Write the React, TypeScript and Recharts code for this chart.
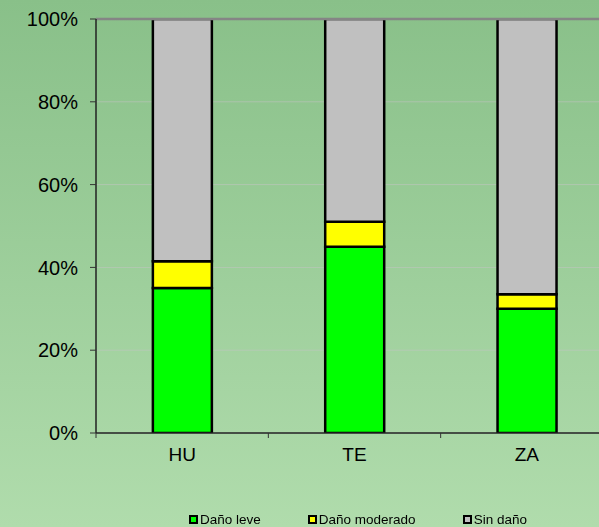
import React from 'react';
import {
  BarChart,
  Bar,
  XAxis,
  YAxis,
  CartesianGrid,
  ReferenceLine,
  Legend
} from 'recharts';

// Damage share per zone (percent of trees)
const zones = ['HU', 'TE', 'ZA'];
const danoLeve = [35, 45, 30];
const danoModerado = [6.5, 6, 3.5];
const sinDano = [58.5, 49, 66.5];
const yTicks = [0, 20, 40, 60, 80, 100];

const data = zones.map((zone, i) => ({
  zone,
  leve: danoLeve[i],
  moderado: danoModerado[i],
  sin: sinDano[i]
}));

const FONT = '"Liberation Sans", Arial, sans-serif';

const ZoneTick = (props: any) => {
  const { x, payload, index } = props;
  const half = payload && payload.offset ? payload.offset : 86;
  const axisY = 433;
  return (
    <g>
      <line x1={x - half} y1={axisY} x2={x - half} y2={axisY + 5} stroke="#333" />
      {index === zones.length - 1 && (
        <line x1={x + half} y1={axisY} x2={x + half} y2={axisY + 5} stroke="#333" />
      )}
      <text x={x} y={axisY + 15} dy="0.71em" textAnchor="middle" fontSize={19} fill="#000" fontFamily={FONT}>
        {payload.value}
      </text>
    </g>
  );
};

const LegendContent = (props: any) => {
  const { payload } = props;
  return (
    <div style={{ display: 'flex', fontFamily: FONT, fontSize: 13.5, color: '#000', lineHeight: '15px' }}>
      {(payload || []).map((item: any) => (
        <div key={item.value} style={{ display: 'flex', alignItems: 'center', marginRight: 47 }}>
          <span
            style={{
              display: 'inline-block',
              width: 5,
              height: 5,
              background: item.color,
              border: '2px solid #000',
              marginRight: 2
            }}
          />
          <span>{item.value}</span>
        </div>
      ))}
    </div>
  );
};

export default function App() {
  return (
    <div
      style={{
        position: 'fixed',
        left: 0,
        top: 0,
        width: 599,
        height: 527,
        background: 'linear-gradient(to bottom, #89c089 0%, #b0dcac 100%)'
      }}
    >
      <BarChart
        width={599}
        height={527}
        data={data}
        margin={{ top: 19, right: -14, left: 0, bottom: 54 }}
        barCategoryGap="33%"
      >
        <CartesianGrid vertical={false} stroke="#c4c4c4" strokeOpacity={0.55} />
        <XAxis
          dataKey="zone"
          height={40}
          tickLine={false}
          axisLine={{ stroke: '#222', strokeWidth: 1.5 }}
          tick={<ZoneTick />}
          interval={0}
        />
        <YAxis
          width={96}
          domain={[0, 100]}
          ticks={yTicks}
          tickFormatter={(v: number) => `${v}%`}
          tickSize={6}
          tickMargin={12}
          tickLine={{ stroke: '#333' }}
          axisLine={{ stroke: '#222', strokeWidth: 1.5 }}
          tick={{ fontSize: 20, fill: '#000', fontFamily: FONT }}
          allowDataOverflow
        />
        <ReferenceLine y={100} stroke="#858585" strokeWidth={2.5} />
        <Legend
          layout="horizontal"
          verticalAlign="middle"
          align="center"
          content={<LegendContent />}
          wrapperStyle={{ top: 512, left: 189, width: 420 }}
        />
        <Bar dataKey="leve" name="Daño leve" stackId="a" fill="#00ff00" stroke="#000" strokeWidth={2.5} isAnimationActive={false} />
        <Bar dataKey="moderado" name="Daño moderado" stackId="a" fill="#ffff00" stroke="#000" strokeWidth={2.5} isAnimationActive={false} />
        <Bar dataKey="sin" name="Sin daño" stackId="a" fill="#c0c0c0" stroke="#000" strokeWidth={2.5} isAnimationActive={false} />
      </BarChart>
    </div>
  );
}
